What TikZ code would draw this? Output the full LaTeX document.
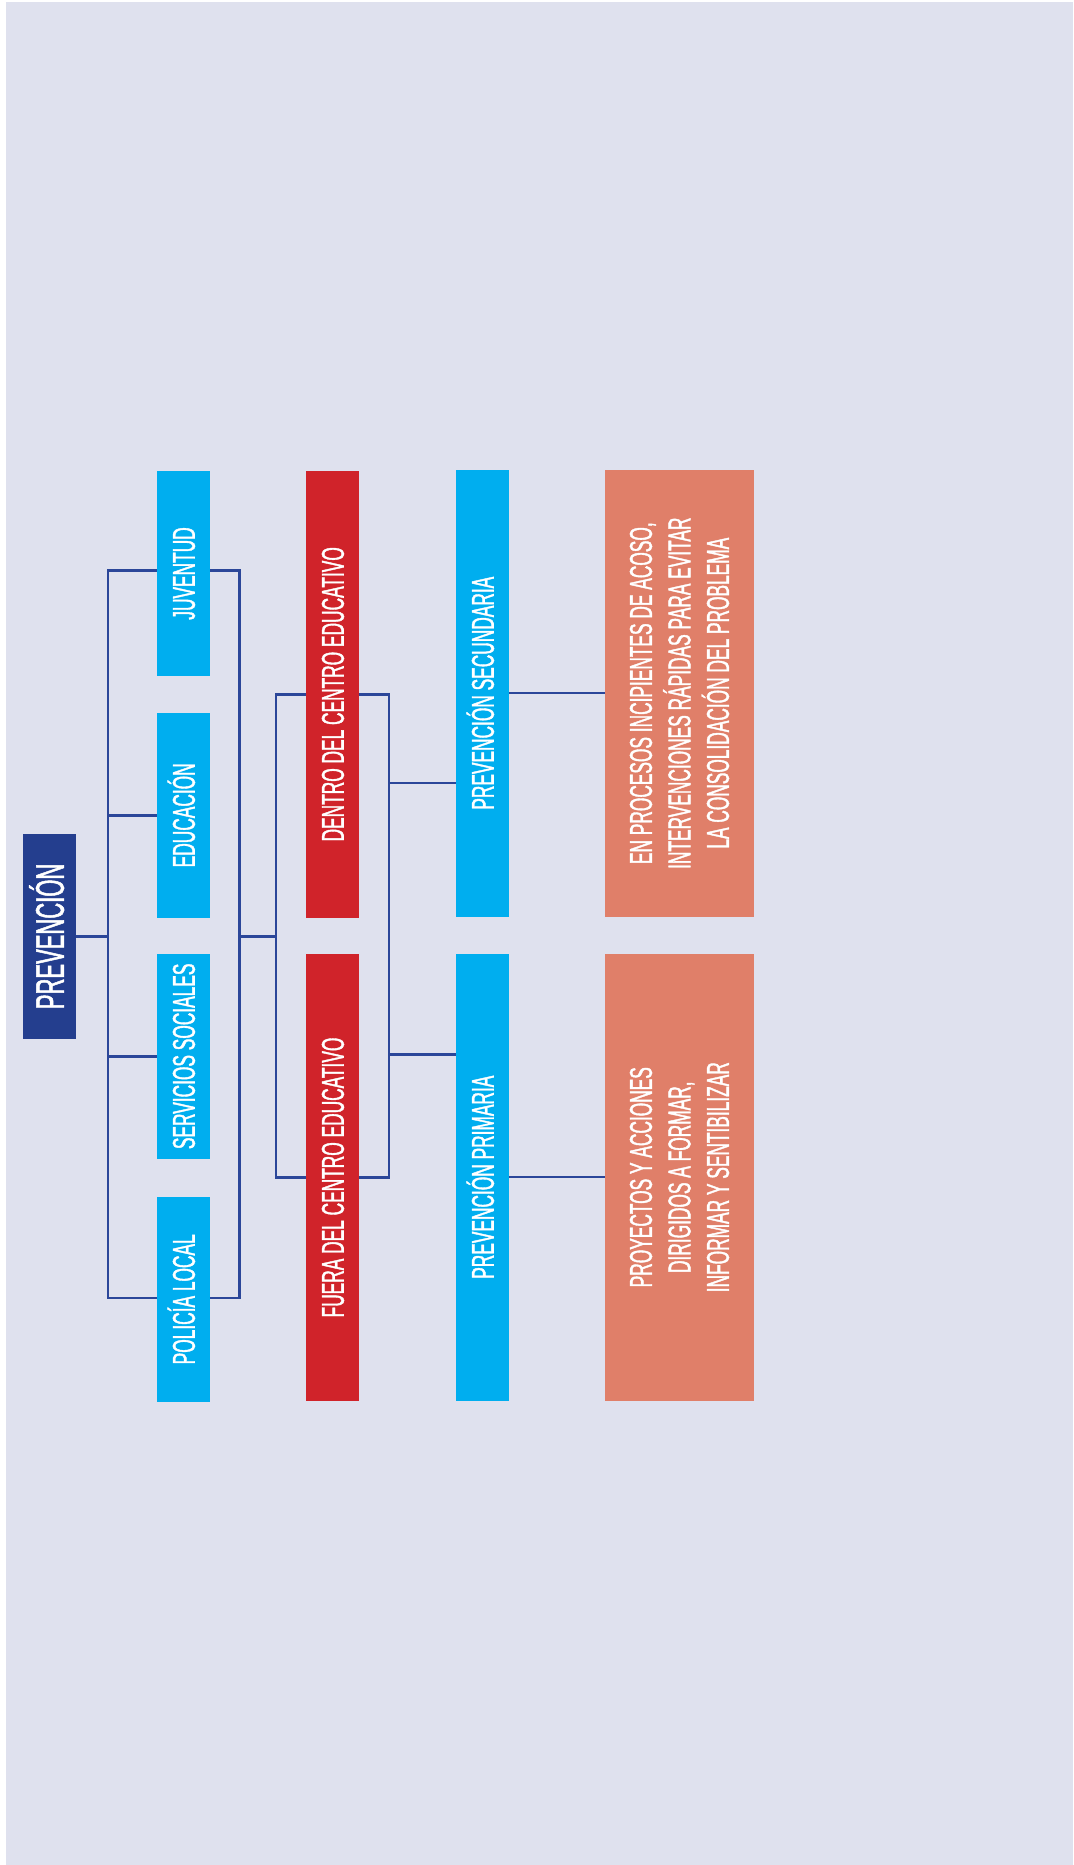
\documentclass[tikz,border=0pt]{standalone}
\usepackage{fontspec}
\newfontfamily\cond[FakeStretch=0.55,FakeBold=1.2]{Liberation Sans}
\definecolor{bglav}{HTML}{DFE1EE}
\definecolor{navybox}{HTML}{243E8E}
\definecolor{navyline}{HTML}{2B4699}
\definecolor{skyb}{HTML}{00AEEF}
\definecolor{redb}{HTML}{D0232A}
\definecolor{salm}{HTML}{E07F69}
\pgfdeclarelayer{bglayer}
\pgfdeclarelayer{linelayer}
\pgfsetlayers{bglayer,linelayer,main}
\tikzset{
  boxbase/.style={rotate=90, inner sep=0pt, outer sep=0pt, text=white, anchor=center},
  lab/.style={boxbase, font=\cond\fontsize{31.5}{38.5}\selectfont, text height=22.6pt, text depth=0pt},
  smallbox/.style={lab, fill=skyb, minimum width=205, minimum height=53},
  prevbox/.style={boxbase, fill=navybox, minimum width=205, minimum height=53,
    font=\cond\fontsize{40}{48}\selectfont, text height=28.6pt, text depth=0pt},
  redbox/.style={lab, fill=redb, minimum width=447, minimum height=53},
  bluebox/.style={lab, fill=skyb, minimum width=447, minimum height=53},
  salbox/.style={boxbase, fill=salm, minimum width=447, minimum height=149, align=center,
    font=\cond\fontsize{31.5}{38.5}\selectfont},
  conn/.style={draw=navyline, line width=2.4pt}
}
\begin{document}
\begin{tikzpicture}[x=1pt,y=-1pt]
\useasboundingbox (0,0) rectangle (1073,1865);
\begin{pgfonlayer}{bglayer}
\fill[white] (0,0) rectangle (1073,1865);
\fill[bglav] (6,2) rectangle (1073,1865);
\end{pgfonlayer}
% nodes
\node[prevbox] (prev) at (49.5,936.4) {PREVENCIÓN};
\node[smallbox] (juv) at (183.5,573.5) {JUVENTUD};
\node[smallbox] (edu) at (183.5,815.3) {EDUCACIÓN};
\node[smallbox] (ser) at (183.5,1056.3) {SERVICIOS SOCIALES};
\node[smallbox] (pol) at (183.5,1299.3) {POLICÍA LOCAL};
\node[redbox] (den) at (332.5,694.3) {DENTRO DEL CENTRO EDUCATIVO};
\node[redbox] (fue) at (332.5,1177.5) {FUERA DEL CENTRO EDUCATIVO};
\node[bluebox] (sec) at (482.5,693.2) {PREVENCIÓN SECUNDARIA};
\node[bluebox] (pri) at (482.5,1177.2) {PREVENCIÓN PRIMARIA};
\node[salbox] (sal1) at (679.5,693.2) {EN PROCESOS INCIPIENTES DE ACOSO,\\INTERVENCIONES RÁPIDAS PARA EVITAR\\LA CONSOLIDACIÓN DEL PROBLEMA};
\node[salbox] (sal2) at (679.5,1177.2) {PROYECTOS Y ACCIONES\\DIRIGIDOS A FORMAR,\\INFORMAR Y SENTIBILIZAR};
% junction coordinates
\coordinate (sp1) at (108,936.4);
\coordinate (sp1r) at (239.3,936.4);
\coordinate (t1) at (108,570.5);
\coordinate (b1) at (108,1298);
\coordinate (sp2) at (276,936.4);
\coordinate (sp2r) at (389,936.4);
\coordinate (j1) at (389,783);
\coordinate (j2) at (389,1054.3);
\begin{pgfonlayer}{linelayer}
\draw[conn] (prev.center) -- (sp1);
\draw[conn] (t1) -- (t1 -| sp1r) -- (b1 -| sp1r) -- (b1) -- cycle;
\draw[conn] (edu.center) -- (edu.center -| sp1);
\draw[conn] (ser.center) -- (ser.center -| sp1);
\draw[conn] (sp1r) -- (sp2);
\draw[conn] (den.center -| sp2) -- (den.center -| sp2r) -- (fue.center -| sp2r) -- (fue.center -| sp2) -- cycle;
\draw[conn] (j1) -- (j1 -| sec.center);
\draw[conn] (j2) -- (j2 -| pri.center);
\draw[conn] (sec.center) -- (sal1.center);
\draw[conn] (pri.center) -- (sal2.center);
\end{pgfonlayer}
\end{tikzpicture}
\end{document}
